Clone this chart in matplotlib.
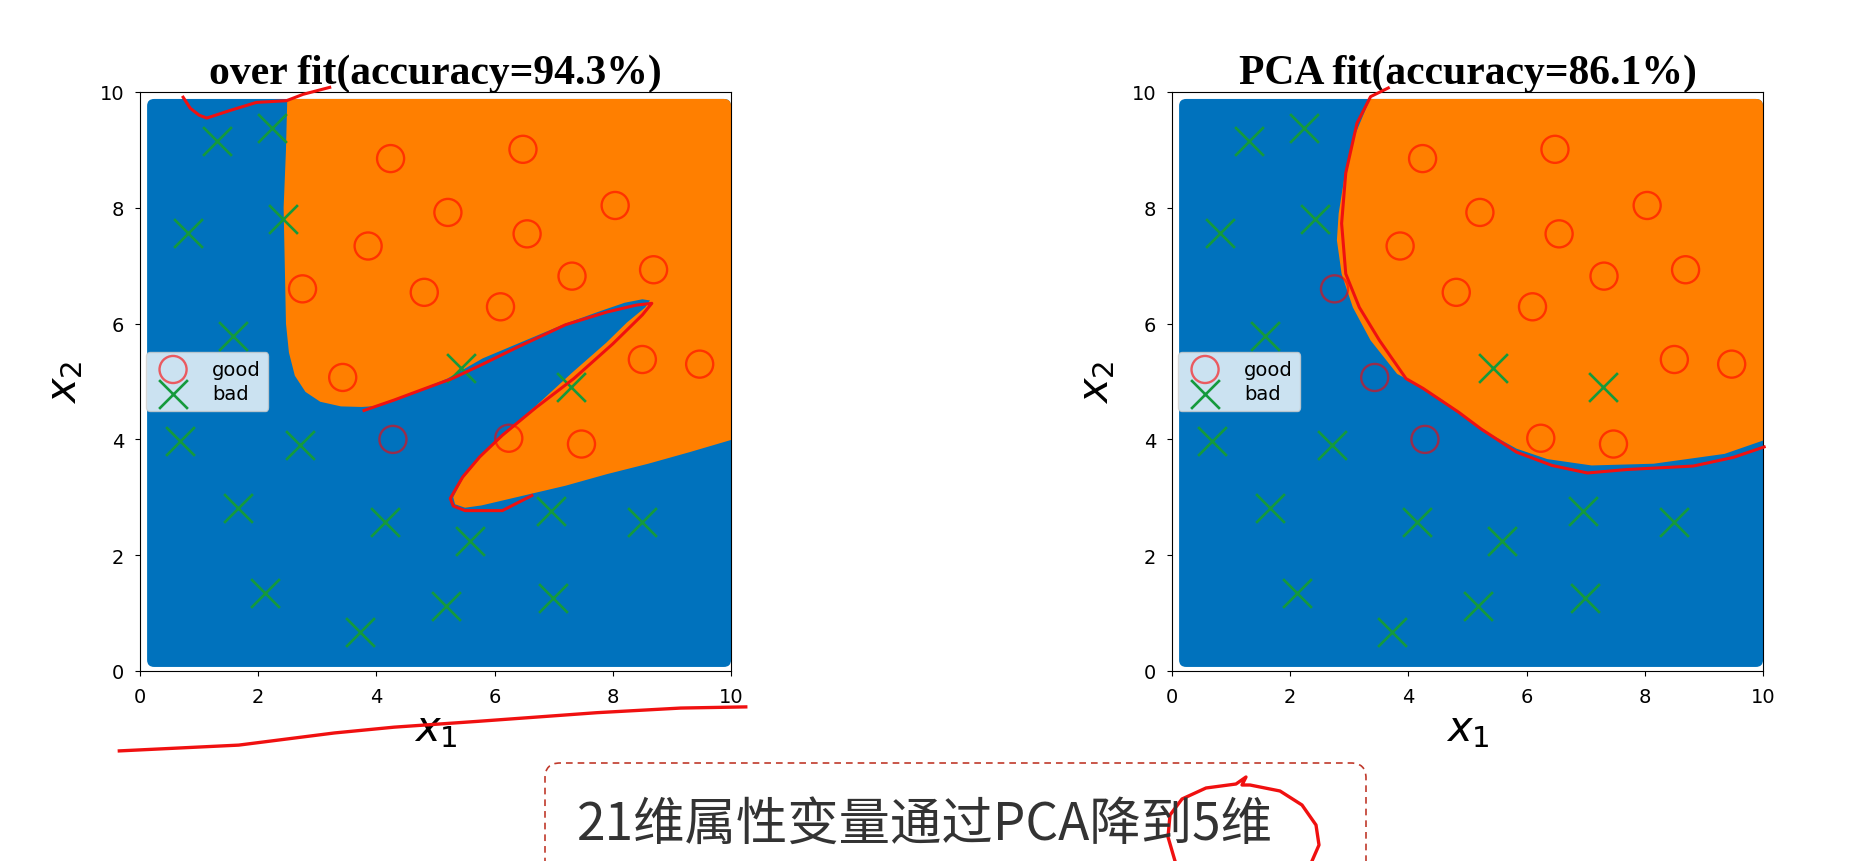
import matplotlib
matplotlib.use("Agg")
import matplotlib.pyplot as plt
from matplotlib.patches import FancyBboxPatch

# sample points (same in both panels)
good_x = [4.24, 6.48, 5.21, 8.04, 3.86, 6.55, 2.75, 4.81, 7.31, 6.10, 8.69, 3.43, 8.50, 9.47, 4.28, 6.24, 7.47]
good_y = [8.85, 9.01, 7.92, 8.04, 7.34, 7.55, 6.60, 6.54, 6.82, 6.29, 6.93, 5.07, 5.38, 5.30, 4.00, 4.02, 3.92]
bad_x = [1.31, 2.24, 0.81, 2.42, 1.58, 5.43, 7.29, 0.67, 2.71, 1.66, 4.14, 5.58, 6.95, 8.50, 2.12, 5.17, 6.99, 3.72]
bad_y = [9.15, 9.38, 7.57, 7.81, 5.79, 5.24, 4.91, 3.98, 3.90, 2.82, 2.58, 2.25, 2.76, 2.58, 1.34, 1.13, 1.26, 0.68]

# decision region ("good" side)
over_bx = [2.50, 2.47, 2.43, 2.45, 2.47, 2.52, 2.62, 2.80, 3.05, 3.40, 3.75, 4.05, 4.60, 5.20, 5.80, 6.50, 7.20,
           7.80, 8.20, 8.50, 8.63, 8.55, 8.24, 7.89, 7.32, 6.70, 6.13, 5.75, 5.46, 5.30, 5.33, 5.50, 5.78, 6.49,
           7.20, 7.90, 8.60, 9.30, 10.2, 10.2]
over_by = [10.2, 9.00, 8.00, 7.00, 6.00, 5.50, 5.10, 4.82, 4.65, 4.57, 4.56, 4.58, 4.80, 5.05, 5.40, 5.70, 6.00,
           6.22, 6.36, 6.42, 6.40, 6.28, 6.02, 5.67, 5.16, 4.58, 4.07, 3.68, 3.32, 3.00, 2.88, 2.82, 2.86, 3.03,
           3.20, 3.40, 3.58, 3.78, 4.05, 10.2]
pca_bx = [3.50, 3.36, 3.06, 2.91, 2.82, 2.79, 2.87, 3.06, 3.36, 3.81, 3.96, 4.55, 5.23, 5.83, 6.35, 7.10, 8.15,
          9.35, 10.0, 10.2, 10.2]
pca_by = [10.2, 9.90, 9.17, 8.48, 7.90, 7.44, 6.86, 6.28, 5.71, 5.13, 5.05, 4.70, 4.18, 3.84, 3.66, 3.55, 3.58,
          3.75, 3.98, 4.00, 10.2]

# red pen strokes drawn over the slide
pen_over_x = [3.79, 4.30, 4.80, 5.28, 5.80, 6.40, 7.20, 7.90, 8.40, 8.66, 8.50, 8.00, 7.34, 6.70, 6.13, 5.75,
              5.46, 5.25, 5.30, 5.50, 6.13, 6.63]
pen_over_y = [4.50, 4.68, 4.87, 5.05, 5.30, 5.60, 5.98, 6.20, 6.32, 6.35, 6.15, 5.65, 5.05, 4.55, 4.07, 3.70,
              3.35, 2.98, 2.85, 2.77, 2.77, 3.03]
pen_top_x = [0.73, 0.85, 1.00, 1.13, 1.52, 1.97, 2.48, 2.76, 3.21]
pen_top_y = [9.91, 9.72, 9.60, 9.55, 9.68, 9.82, 9.85, 9.96, 10.08]
pen_under_x = [-0.35, 1.67, 3.29, 4.30, 5.71, 7.73, 9.15, 10.25]
pen_under_y = [-1.38, -1.28, -1.07, -0.97, -0.87, -0.72, -0.64, -0.62]
pen_pca_x = [3.66, 3.36, 3.13, 2.94, 2.87, 2.94, 3.17, 3.51, 3.96, 4.25, 4.85, 5.23, 5.83, 6.43, 7.03, 7.70,
             8.82, 9.50, 10.02]
pen_pca_y = [10.07, 9.92, 9.46, 8.60, 7.73, 6.86, 6.28, 5.71, 5.05, 4.88, 4.47, 4.18, 3.78, 3.55, 3.42, 3.48,
             3.54, 3.69, 3.87]
# loop round "5维", in screen pixels
pen_loop_px = [1175, 1168, 1170, 1182, 1206, 1236, 1246, 1242, 1250, 1280, 1302, 1316, 1319, 1312]
pen_loop_py = [862, 838, 816, 800, 789, 785, 778, 786, 786, 792, 806, 826, 846, 862]

titles = ["over fit(accuracy=94.3%)", "PCA fit(accuracy=86.1%)"]
regions = [(over_bx, over_by), (pca_bx, pca_by)]
ticks = [0, 2, 4, 6, 8, 10]

BLUE = "#0072bd"
ORANGE = "#ff7f00"
PEN = "#f01010"

fig = plt.figure(figsize=(18.72, 8.62), dpi=100)
W, H = 1872, 862
lefts = [140, 1172]
axes = []
for i in range(2):
    ax = fig.add_axes([lefts[i] / W, 1 - 672 / H, 591 / W, 579 / H])
    ax.set_xlim(0, 10)
    ax.set_ylim(0, 10)
    bg = FancyBboxPatch((0.12, 0.07), 9.88, 9.81, boxstyle="round,pad=0,rounding_size=0.12",
                        fc=BLUE, ec="none", zorder=1)
    ax.add_patch(bg)
    bx, by = regions[i]
    poly = ax.fill(bx, by, color=ORANGE, lw=0, zorder=2)[0]
    poly.set_clip_path(bg)
    ax.scatter(good_x, good_y, s=380, facecolors="none", edgecolors="red", linewidths=1.7,
               alpha=0.6, label="good", zorder=3)
    ax.scatter(bad_x, bad_y, s=430, marker="x", color="#159a3c", linewidths=1.9, label="bad", zorder=3)
    ax.set_xticks(ticks)
    ax.set_yticks(ticks)
    ax.tick_params(labelsize=14, pad=8)
    ax.set_title(titles[i], fontfamily="Liberation Serif", fontweight="bold", fontsize=30, pad=6)
    ax.set_xlabel("$x_1$", fontsize=30, labelpad=1)
    ax.set_ylabel("$x_2$", fontsize=30, labelpad=10)
    ax.legend(loc="center left", fontsize=14, markerscale=1.0, borderaxespad=0.3, framealpha=0.8,
              handletextpad=1.0, labelspacing=0.3)
    axes.append(ax)

ax1, ax2 = axes
ax1.plot(pen_over_x, pen_over_y, color=PEN, lw=2.2, clip_on=False, zorder=5)
ax1.plot(pen_top_x, pen_top_y, color=PEN, lw=2.2, clip_on=False, zorder=5)
ax1.plot(pen_under_x, pen_under_y, color=PEN, lw=2.4, clip_on=False, zorder=5)
ax2.plot(pen_pca_x, pen_pca_y, color=PEN, lw=2.2, clip_on=False, zorder=5)

# caption box at the bottom
box = FancyBboxPatch((5.45, -0.4), 8.21, 1.38, boxstyle="round,pad=0,rounding_size=0.15",
                     transform=fig.dpi_scale_trans, fc="none", ec="#c0392b", lw=1.2,
                     ls=(0, (4, 3)))
fig.add_artist(box)
fig.text(577 / W, 37 / H, "21维属性变量通过PCA降到5维", fontsize=37, color="#333333",
         family=["Noto Sans CJK SC", "DejaVu Sans"], ha="left", va="center")
fig.add_artist(plt.Line2D([x / W for x in pen_loop_px], [1 - y / H for y in pen_loop_py],
                          transform=fig.transFigure, color=PEN, lw=2.4))

fig.savefig("out.png", dpi=100)
